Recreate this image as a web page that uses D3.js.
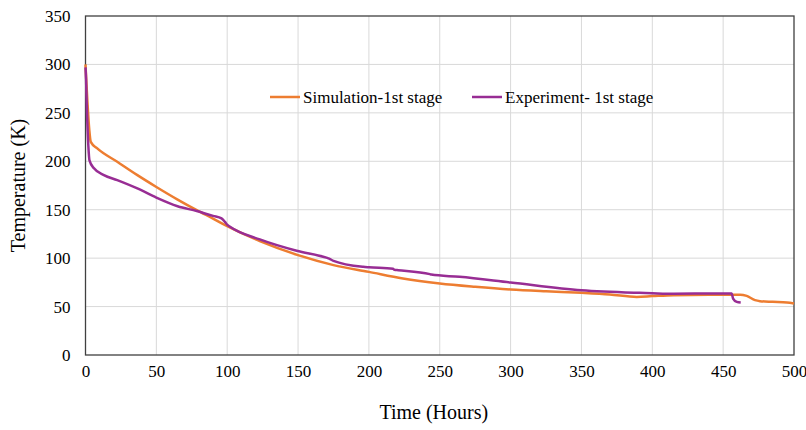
<!DOCTYPE html>
<html>
<head>
<meta charset="utf-8">
<script src="https://cdn.jsdelivr.net/npm/d3@7"></script>
<style>
  body { margin: 0; background: #fff; }
  text { font-family: "Liberation Serif", "Times New Roman", serif; fill: #000; }
</style>
</head>
<body>
<div id="chart"></div>
<script>

// data
var simTime = [0, 0.5, 1.3, 2.7, 3.7, 8.3, 22.4, 36.6, 50, 65, 78.5, 90, 100, 123, 150, 175, 200, 224, 250, 275, 300, 325, 350, 370, 389, 400, 415, 440, 462, 466.6, 472.5, 476, 485, 495, 500];
var simTemp = [300, 285, 263, 232, 220, 213.3, 199.5, 185.7, 173.5, 160.5, 149.6, 140.8, 133, 117.6, 103.1, 92.8, 85.8, 79, 73.9, 70.5, 67.7, 65.8, 64.2, 62.5, 60, 60.8, 61.8, 62.3, 62.3, 61, 56.6, 55.6, 54.9, 54.2, 53.2];

var expTime = [0, 0.4, 0.8, 2, 2.8, 6, 13, 22.4, 36.6, 50, 65, 78.5, 90, 96, 98.4, 100, 102, 123, 149, 170, 172, 175, 196, 200, 217, 218, 220.7, 243, 244, 264, 300, 350, 391, 400, 410, 430, 456, 457, 459.6, 462.4];
var expTemp = [297, 285, 263, 216, 201, 192.7, 185.7, 180.6, 172, 162.5, 153.6, 148.6, 143.6, 141, 137.5, 134.5, 132.3, 119.3, 107.6, 100.5, 99.5, 97.2, 91, 90.5, 89, 88, 87.6, 83.5, 83, 80.7, 74.9, 66.9, 64.2, 63.8, 63.2, 63.4, 63.5, 58.3, 54.9, 54.2];

var xTicks = [0, 50, 100, 150, 200, 250, 300, 350, 400, 450, 500];
var yTicks = [0, 50, 100, 150, 200, 250, 300, 350];

var seriesNames = ["Simulation-1st stage", "Experiment- 1st stage"];
var seriesColors = ["#ED7D31", "#982D94"];

////////////////////////////////////////////////////////////////////////////////

var W = 806, H = 430;
var plotLeft = 85.5, plotRight = 794, plotTop = 16, plotBottom = 355;

var svg = d3.select("#chart").append("svg").attr("width", W).attr("height", H);

var x = d3.scaleLinear().domain([0, 500]).range([plotLeft, plotRight]);
var y = d3.scaleLinear().domain([0, 350]).range([plotBottom, plotTop]);

// gridlines
var grid = svg.append("g");
grid.selectAll("line.v").data(xTicks.slice(1, -1)).enter().append("line")
  .attr("x1", function(d){ return x(d); }).attr("x2", function(d){ return x(d); })
  .attr("y1", plotTop).attr("y2", plotBottom)
  .style("stroke", "#d9d9d9").style("stroke-width", 1);
grid.selectAll("line.h").data(yTicks.slice(1, -1)).enter().append("line")
  .attr("x1", plotLeft).attr("x2", plotRight)
  .attr("y1", function(d){ return y(d); }).attr("y2", function(d){ return y(d); })
  .style("stroke", "#d9d9d9").style("stroke-width", 1);

// frame
svg.append("rect").attr("x", plotLeft).attr("y", plotTop)
  .attr("width", plotRight - plotLeft).attr("height", plotBottom - plotTop)
  .style("fill", "none").style("stroke", "#404040").style("stroke-width", 1.3);

// axes (labels only, the frame draws the lines)
var xAxis = svg.append("g").attr("transform", "translate(0," + plotBottom + ")")
  .call(d3.axisBottom(x).tickValues(xTicks).tickSize(0).tickPadding(10));
var yAxis = svg.append("g").attr("transform", "translate(" + plotLeft + ",0)")
  .call(d3.axisLeft(y).tickValues(yTicks).tickSize(0).tickPadding(15));
[xAxis, yAxis].forEach(function(a){
  a.select(".domain").remove();
  a.selectAll("text").style("font-size", "17px").style("font-family", "Liberation Serif, serif").attr("fill", "#000");
});

// lines
var line = d3.line()
  .x(function(d){ return x(d[0]); })
  .y(function(d){ return y(d[1]); })
  .curve(d3.curveMonotoneX);

var simData = simTime.map(function(t, i){ return [t, simTemp[i]]; });
var expData = expTime.map(function(t, i){ return [t, expTemp[i]]; });

svg.append("path").datum(simData).attr("d", line)
  .style("fill", "none").style("stroke", seriesColors[0]).style("stroke-width", 2.5);
svg.append("path").datum(expData).attr("d", line)
  .style("fill", "none").style("stroke", seriesColors[1]).style("stroke-width", 2.5);

// legend
var legendX = [270, 472];
var legend = svg.append("g");
seriesNames.forEach(function(name, i){
  legend.append("line")
    .attr("x1", legendX[i]).attr("x2", legendX[i] + 30)
    .attr("y1", 97).attr("y2", 97)
    .style("stroke", seriesColors[i]).style("stroke-width", 2.5);
  legend.append("text")
    .attr("x", legendX[i] + 33).attr("y", 103)
    .style("font-size", "17px")
    .text(name);
});

// axis titles
svg.append("text")
  .attr("x", (plotLeft + plotRight) / 2 - 6).attr("y", 419)
  .attr("text-anchor", "middle").style("font-size", "20px")
  .text("Time (Hours)");
svg.append("text")
  .attr("transform", "translate(25," + ((plotTop + plotBottom) / 2) + ") rotate(-90)")
  .attr("text-anchor", "middle").style("font-size", "20px")
  .text("Temperature (K)");

</script>
</body>
</html>
